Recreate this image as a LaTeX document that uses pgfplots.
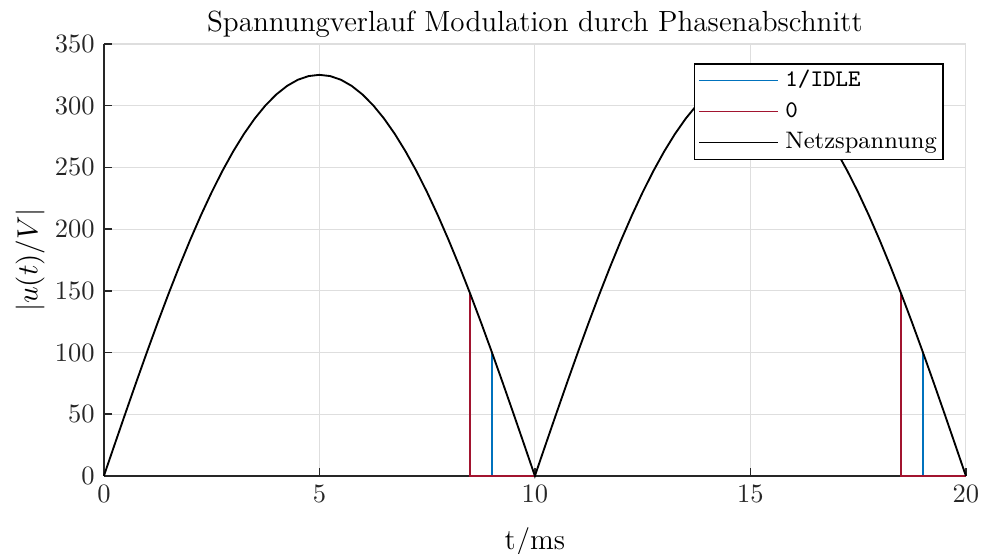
\documentclass[border=0pt]{standalone}
\usepackage{pgfplots}
\usepackage{pgfplotstable}
\pgfplotsset{compat=1.18}
\definecolor{mblue}{rgb}{0,0.447,0.741}
\definecolor{mred}{rgb}{0.635,0.078,0.184}
\definecolor{maxis}{rgb}{0.15,0.15,0.15}
\definecolor{mgrid}{rgb}{0.87,0.87,0.87}
\pgfplotstableread{
t u
0 0
0.25 25.50
0.5 50.84
0.75 75.87
1 100.43
1.25 124.37
1.5 147.55
1.75 169.81
2 191.03
2.25 211.07
2.5 229.81
2.75 247.13
3 262.93
3.25 277.11
3.5 289.58
3.75 300.26
4 309.09
4.25 316.02
4.5 321.00
4.75 324.00
5 325.00
5.25 324.00
5.5 321.00
5.75 316.02
6 309.09
6.25 300.26
6.5 289.58
6.75 277.11
7 262.93
7.25 247.13
7.5 229.81
7.75 211.07
8 191.03
8.25 169.81
8.5 147.55
8.75 124.37
9 100.43
9.25 75.87
9.5 50.84
9.75 25.50
10 0
10.25 25.50
10.5 50.84
10.75 75.87
11 100.43
11.25 124.37
11.5 147.55
11.75 169.81
12 191.03
12.25 211.07
12.5 229.81
12.75 247.13
13 262.93
13.25 277.11
13.5 289.58
13.75 300.26
14 309.09
14.25 316.02
14.5 321.00
14.75 324.00
15 325.00
15.25 324.00
15.5 321.00
15.75 316.02
16 309.09
16.25 300.26
16.5 289.58
16.75 277.11
17 262.93
17.25 247.13
17.5 229.81
17.75 211.07
18 191.03
18.25 169.81
18.5 147.55
18.75 124.37
19 100.43
19.25 75.87
19.5 50.84
19.75 25.50
20 0
}\netztab
\pgfplotstableread{
t u
9 0
9 100.43
nan nan
19 0
19 100.43
}\idletab
\pgfplotstableread{
t u
8.5 147.55
8.5 0
10 0
nan nan
18.5 147.55
18.5 0
20 0
}\zerotab
\begin{document}
\begin{tikzpicture}
\begin{axis}[
  set layers=standard,
  clip=false,
  scale only axis,
  width=325.3pt, height=163pt,
  xmin=0, xmax=20, ymin=0, ymax=350,
  xtick={0,5,...,20}, ytick={0,50,...,350},
  axis x line*=bottom, axis y line*=left,
  axis line style={maxis, line width=0.6pt, -},
  tick align=inside,
  major tick length=3pt,
  tick style={maxis, line width=0.6pt},
  grid=major,
  grid style={mgrid, line width=0.4pt},
  ticklabel style={font=\fontsize{10}{12}\selectfont, text=maxis},
  title={Spannungverlauf Modulation durch Phasenabschnitt},
  title style={font=\fontsize{11}{13}\selectfont, at={(0.5,1)}, anchor=south, yshift=-5.8pt, inner sep=2pt},
  xlabel={t/ms},
  ylabel={$|u(t)/V|$},
  label style={font=\fontsize{11}{13}\selectfont},
  xlabel style={yshift=-2.6pt},
  ylabel style={yshift=-3pt},
  unbounded coords=jump,
  legend cell align=left,
  legend style={at={(0.9745,0.956)}, anchor=north east, draw=black, fill=white, line width=0.6pt,
    font=\fontsize{9}{11}\selectfont, inner xsep=1.5pt, inner ysep=0.5pt,
    row sep=0.3pt, nodes={inner xsep=0.9pt}},
  legend image code/.code={\draw[#1, line width=0.55pt] (3pt,0pt) -- (32.8pt,0pt);},
]
\addplot[mblue, line width=0.7pt] table[x=t,y=u] {\idletab};
\addlegendentry{\hspace{1.5pt}\texttt{1/IDLE}}
\addplot[mred, line width=0.7pt] table[x=t,y=u] {\zerotab};
\addlegendentry{\hspace{1.5pt}\texttt{0}}
\addplot[black, line width=0.7pt] table[x=t,y=u] {\netztab};
\addlegendentry{\hspace{1.5pt}Netzspannung}
\end{axis}
\pgfresetboundingbox
\path ([shift={(-39.2pt,-29.4pt)}]current axis.south west) rectangle ([shift={(5.7pt,16.6pt)}]current axis.north east);
\end{tikzpicture}
\end{document}
